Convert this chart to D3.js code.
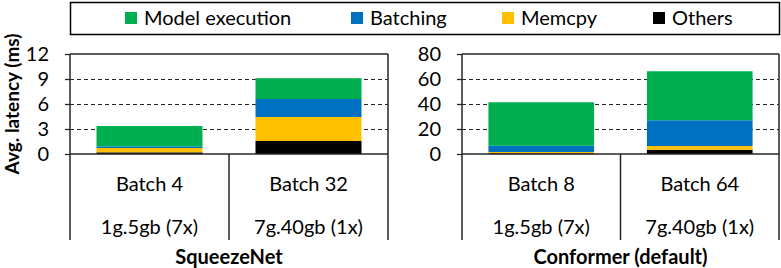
<!DOCTYPE html>
<html>
<head>
<meta charset="utf-8">
<script src="https://cdn.jsdelivr.net/npm/d3@7"></script>
<style>
  body { margin: 0; background: #fff; }
  svg text { font-family: Lato, "Open Sans", sans-serif; fill: #000; }
</style>
</head>
<body>
<script>
// stack segments, bottom to top order is reversed below
var segments = ["Model execution", "Batching", "Memcpy", "Others"];
var segColors = ["#00B050", "#0070C0", "#FFC000", "#000000"];

// SqueezeNet panel
var sqzBatches = ["Batch 4", "Batch 32"];
var sqzConfigs = ["1g.5gb (7x)", "7g.40gb (1x)"];
var sqzModel = [2.44, 2.5];
var sqzBatching = [0.2, 2.16];
var sqzMemcpy = [0.52, 2.88];
var sqzOthers = [0.2, 1.56];
var sqzTicks = [0, 3, 6, 9, 12];

// Conformer panel
var confBatches = ["Batch 8", "Batch 64"];
var confConfigs = ["1g.5gb (7x)", "7g.40gb (1x)"];
var confModel = [34.8, 39.2];
var confBatching = [5.0, 20.6];
var confMemcpy = [1.0, 3.0];
var confOthers = [0.6, 3.4];
var confTicks = [0, 20, 40, 60, 80];

var W = 781, H = 268;
var plotTop = 54, plotBottom = 154, tableBottom = 240;
var frameColor = "#262626";

var svg = d3.select("body").append("svg")
  .attr("width", W)
  .attr("height", H);

// legend box
svg.append("rect")
  .attr("x", 70.5).attr("y", 2.5)
  .attr("width", 709).attr("height", 32)
  .attr("fill", "none")
  .attr("stroke", "#000")
  .attr("stroke-width", 1.5);

var legendX = [125, 351, 502, 653];
var legend = svg.selectAll(".legend")
  .data(segments)
  .enter()
  .append("g")
  .attr("class", "legend")
  .attr("transform", function(d, i) { return "translate(" + legendX[i] + ",18)"; });

legend.append("rect")
  .attr("x", 0).attr("y", -6)
  .attr("width", 12).attr("height", 12)
  .attr("fill", function(d, i) { return segColors[i]; });

legend.append("text")
  .attr("x", 19)
  .attr("dy", "0.35em")
  .style("font-size", "20px")
  .text(function(d) { return d; });

// y-axis title
svg.append("text")
  .attr("transform", "translate(12,104) rotate(-90)")
  .attr("text-anchor", "middle")
  .attr("dy", "0.35em")
  .style("font-size", "19px")
  .style("font-weight", "bold")
  .text("Avg. latency (ms)");

var drawPanel = function(opts) {
  var g = svg.append("g");
  var y = d3.scaleLinear()
    .domain([0, opts.ticks[opts.ticks.length - 1]])
    .range([plotBottom, plotTop]);
  var x = d3.scaleBand()
    .domain(opts.batches)
    .range([opts.x0, opts.x1])
    .paddingInner(1 / 3)
    .paddingOuter(1 / 6);
  var step = x.step();

  // dashed gridlines
  g.selectAll(".grid")
    .data(opts.ticks.slice(1, -1))
    .enter()
    .append("line")
    .attr("x1", opts.x0).attr("x2", opts.x1)
    .attr("y1", function(d) { return Math.round(y(d)) + 0.5; })
    .attr("y2", function(d) { return Math.round(y(d)) + 0.5; })
    .attr("stroke", "#262626")
    .attr("stroke-width", 1.2)
    .attr("stroke-dasharray", "4,3");

  // stacked bars, bottom first
  var rows = opts.batches.map(function(b, i) {
    return { batch: b, "Others": opts.others[i], "Memcpy": opts.memcpy[i],
             "Batching": opts.batching[i], "Model execution": opts.model[i] };
  });
  var stack = d3.stack().keys(segments.slice().reverse());
  var series = stack(rows);

  g.selectAll(".series")
    .data(series)
    .enter()
    .append("g")
    .attr("fill", function(d) { return segColors[segments.indexOf(d.key)]; })
    .selectAll("rect")
    .data(function(d) { return d; })
    .enter()
    .append("rect")
    .attr("x", function(d) { return x(d.data.batch); })
    .attr("width", x.bandwidth())
    .attr("y", function(d) { return y(d[1]); })
    .attr("height", function(d) { return y(d[0]) - y(d[1]); });

  // y axis
  var axis = d3.axisLeft(y)
    .tickValues(opts.ticks)
    .tickSize(5)
    .tickPadding(16);
  var ag = g.append("g")
    .attr("transform", "translate(" + opts.x0 + ",0)")
    .call(axis);
  ag.select(".domain").remove();
  ag.selectAll("line").attr("stroke", frameColor).attr("stroke-width", 1.3);
  ag.selectAll("text")
    .style("font-size", "20px")
    .style("font-family", "Lato, 'Open Sans', sans-serif");

  // frame and category table lines
  var lines = [
    [opts.x0, plotTop, opts.x1, plotTop],
    [opts.x0, plotTop, opts.x0, tableBottom],
    [opts.x1, plotTop, opts.x1, tableBottom],
    [opts.x0, plotBottom, opts.x1, plotBottom],
    [opts.x0 + step, plotBottom, opts.x0 + step, tableBottom]
  ];
  g.selectAll(".frame")
    .data(lines)
    .enter()
    .append("line")
    .attr("x1", function(d) { return d[0]; })
    .attr("y1", function(d) { return d[1]; })
    .attr("x2", function(d) { return d[2]; })
    .attr("y2", function(d) { return d[3]; })
    .attr("stroke", frameColor)
    .attr("stroke-width", 1.5);

  // category labels
  g.selectAll(".batch")
    .data(opts.batches)
    .enter()
    .append("text")
    .attr("x", function(d) { return x(d) + x.bandwidth() / 2; })
    .attr("y", 184)
    .attr("dy", "0.35em")
    .attr("text-anchor", "middle")
    .style("font-size", "20px")
    .text(function(d) { return d; });

  g.selectAll(".config")
    .data(opts.configs)
    .enter()
    .append("text")
    .attr("x", function(d, i) { return x(opts.batches[i]) + x.bandwidth() / 2; })
    .attr("y", 227)
    .attr("dy", "0.35em")
    .attr("text-anchor", "middle")
    .style("font-size", "20px")
    .text(function(d) { return d; });

  g.append("text")
    .attr("x", (opts.x0 + opts.x1) / 2)
    .attr("y", 257)
    .attr("dy", "0.35em")
    .attr("text-anchor", "middle")
    .style("font-size", "20px")
    .style("font-weight", "bold")
    .text(opts.title);
};

drawPanel({
  x0: 70, x1: 388, title: "SqueezeNet",
  batches: sqzBatches, configs: sqzConfigs, ticks: sqzTicks,
  model: sqzModel, batching: sqzBatching, memcpy: sqzMemcpy, others: sqzOthers
});

drawPanel({
  x0: 462, x1: 779, title: "Conformer (default)",
  batches: confBatches, configs: confConfigs, ticks: confTicks,
  model: confModel, batching: confBatching, memcpy: confMemcpy, others: confOthers
});
</script>
</body>
</html>
